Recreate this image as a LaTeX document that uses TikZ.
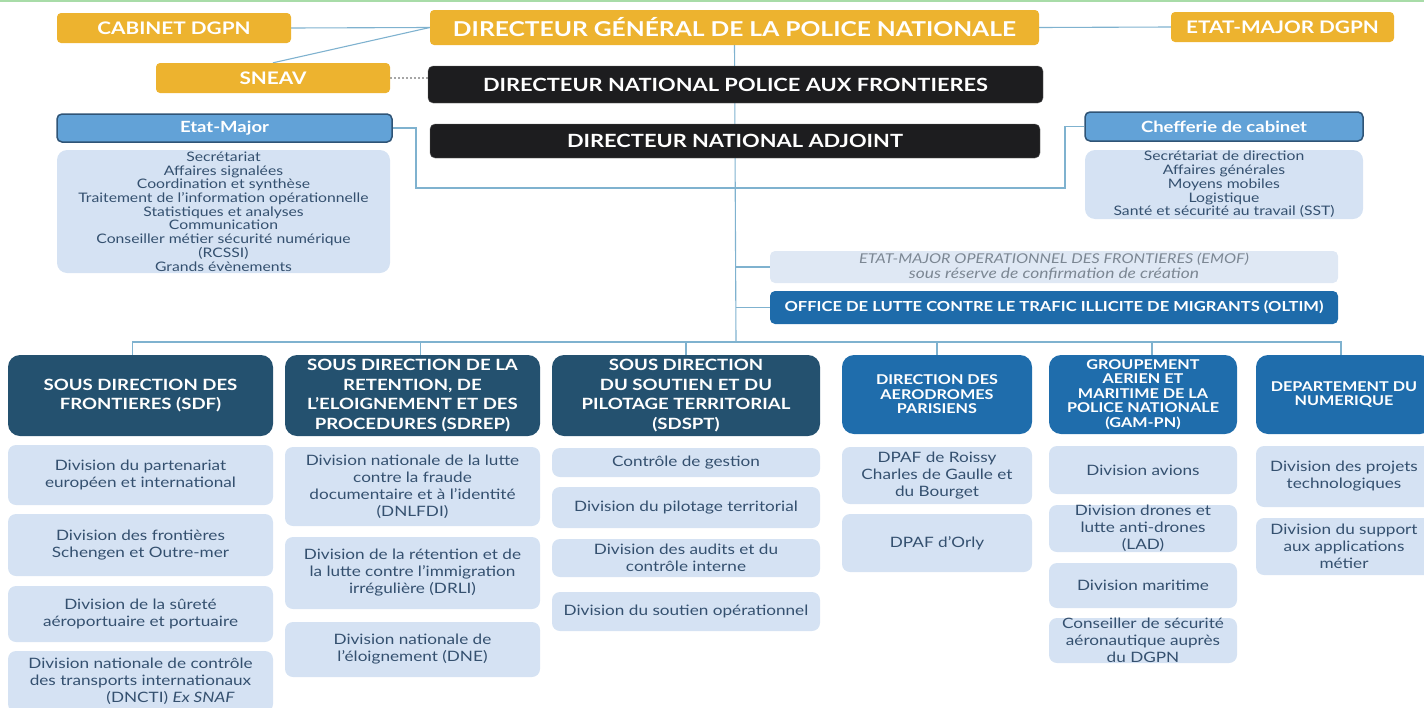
\documentclass[tikz,border=0pt]{standalone}
\usepackage{fontspec}
\setmainfont{Lato}[FakeStretch=1.2]
\usetikzlibrary{backgrounds}
\definecolor{gold}{HTML}{EDB32F}
\definecolor{blk}{HTML}{1D1D1F}
\definecolor{hdrblue}{HTML}{62A2D7}
\definecolor{hdrborder}{HTML}{2F5476}
\definecolor{lightbox}{HTML}{D5E2F3}
\definecolor{emofbox}{HTML}{DFE8F4}
\definecolor{tealhdr}{HTML}{24516F}
\definecolor{midblue}{HTML}{1F6DAC}
\definecolor{oltimc}{HTML}{1E6BAA}
\definecolor{conn}{HTML}{7FB2CF}
\definecolor{subtext}{HTML}{34506F}
\definecolor{emoftext}{HTML}{7C8793}
\definecolor{topgreen}{HTML}{A8DCA8}
\newcommand\mkbox[7]{\node[#6, minimum width={(#4-#2)*1pt}, minimum height={(#5-#3)*1pt}] (#1) at ({(#2+#4)/2},{(#3+#5)/2}) {#7};}
\tikzset{
  box/.style={inner sep=0pt, align=center},
  goldbox/.style={box, fill=gold, rounded corners=4pt, text=white, font=\bfseries\fontsize{17.3}{22}\selectfont},
  blackbox/.style={box, fill=blk, draw=black!60, rounded corners=5pt, text=white, font=\bfseries\fontsize{18.2}{22}\selectfont},
  sidehdr/.style={box, fill=hdrblue, draw=hdrborder, line width=1.5pt, rounded corners=5pt, text=white, font=\bfseries\fontsize{15.4}{18}\selectfont},
  listbox/.style={box, fill=lightbox, rounded corners=10pt, text=subtext, font=\fontsize{13.1}{13.7}\selectfont},
  tealbox/.style={box, fill=tealhdr, rounded corners=12pt, text=white, font=\bfseries\fontsize{15.5}{19.5}\selectfont},
  bluebox/.style={box, fill=midblue, rounded corners=12pt, text=white, font=\bfseries\fontsize{13.5}{14.6}\selectfont},
  subbox/.style={box, fill=lightbox, rounded corners=8pt, text=subtext, font=\fontsize{14.3}{17}\selectfont},
  emofst/.style={box, fill=emofbox, rounded corners=5pt, text=emoftext, font=\itshape\fontsize{13.5}{15}\selectfont},
  oltimst/.style={box, fill=oltimc, rounded corners=5pt, text=white, font=\bfseries\fontsize{13.8}{16}\selectfont},
  link/.style={draw=conn, line width=1.1pt},
}
\begin{document}
\begin{tikzpicture}[x=1pt,y=-1pt]
\useasboundingbox (0,0) rectangle (1424,707);
\draw[topgreen, line width=1.5pt] (0,1) -- (1424,1);
% top row
\mkbox{cab}{57}{13}{291}{43}{goldbox}{CABINET DGPN}
\mkbox{dg}{430}{10}{1039}{45}{goldbox, font=\bfseries\fontsize{20.5}{22}\selectfont}{DIRECTEUR GÉNÉRAL DE LA POLICE NATIONALE}
\mkbox{emdg}{1171}{12}{1394}{42}{goldbox}{ETAT-MAJOR DGPN}
\mkbox{sneav}{156}{63}{390}{93}{goldbox}{SNEAV}
\mkbox{dnpaf}{428}{66}{1043}{103}{blackbox}{DIRECTEUR NATIONAL POLICE AUX FRONTIERES}
\mkbox{dna}{430}{124}{1040}{158}{blackbox}{DIRECTEUR NATIONAL ADJOINT}
% side boxes
\mkbox{em}{57}{114}{392}{142}{sidehdr}{Etat-Major}
\mkbox{emlist}{57}{150}{390}{273}{listbox}{Secrétariat\\Affaires signalées\\Coordination et synthèse\\Traitement de l’information opérationnelle\\Statistiques et analyses\\Communication\\Conseiller métier sécurité numérique\\(RCSSI)\\Grands évènements}
\mkbox{ch}{1085}{112}{1363}{141}{sidehdr}{Chefferie de cabinet}
\mkbox{chlist}{1085}{150}{1363}{219}{listbox}{Secrétariat de direction\\Affaires générales\\Moyens mobiles\\Logistique\\Santé et sécurité au travail (SST)}
\mkbox{emof}{770}{251}{1338}{283}{emofst}{ETAT-MAJOR OPERATIONNEL DES FRONTIERES (EMOF)\\{\fontsize{14.5}{15}\selectfont sous réserve de confirmation de création}}
\mkbox{oltim}{770}{291}{1338}{324}{oltimst}{OFFICE DE LUTTE CONTRE LE TRAFIC ILLICITE DE MIGRANTS (OLTIM)}
% headers
\mkbox{sdf}{8}{355}{273}{436}{tealbox}{SOUS DIRECTION DES\\FRONTIERES (SDF)}
\mkbox{sdrep}{285}{355}{540}{436}{tealbox}{SOUS DIRECTION DE LA\\RETENTION, DE\\L’ELOIGNEMENT ET DES\\PROCEDURES (SDREP)}
\mkbox{sdspt}{552}{355}{820}{436}{tealbox}{SOUS DIRECTION\\DU SOUTIEN ET DU\\PILOTAGE TERRITORIAL\\(SDSPT)}
\mkbox{dap}{842}{355}{1032}{434}{bluebox}{DIRECTION DES\\AERODROMES\\PARISIENS}
\mkbox{gam}{1049}{355}{1237}{434}{bluebox}{GROUPEMENT\\AERIEN ET\\MARITIME DE LA\\POLICE NATIONALE\\(GAM-PN)}
\mkbox{dn}{1256}{355}{1432}{434}{bluebox}{DEPARTEMENT DU\\NUMERIQUE}
% SDF column
\mkbox{sdfa}{8}{445}{273}{505}{subbox}{Division du partenariat\\européen et international}
\mkbox{sdfb}{8}{514}{273}{576}{subbox}{Division des frontières\\Schengen et Outre-mer}
\mkbox{sdfc}{8}{586}{273}{642}{subbox}{Division de la sûreté\\aéroportuaire et portuaire}
\mkbox{sdfd}{8}{651}{273}{712}{subbox}{Division nationale de contrôle\\des transports internationaux\\\hspace*{60pt}(DNCTI) {\itshape Ex SNAF}}
% SDREP column
\mkbox{sdrepa}{285}{447}{540}{526}{subbox}{Division nationale de la lutte\\contre la fraude\\documentaire et à l’identité\\(DNLFDI)}
\mkbox{sdrepb}{285}{537}{540}{609}{subbox}{Division de la rétention et de\\la lutte contre l’immigration\\irrégulière (DRLI)}
\mkbox{sdrepc}{285}{622}{540}{677}{subbox}{Division nationale de\\l’éloignement (DNE)}
% SDSPT column
\mkbox{sdspta}{552}{448}{820}{477}{subbox}{Contrôle de gestion}
\mkbox{sdsptb}{552}{487}{820}{528}{subbox}{Division du pilotage territorial}
\mkbox{sdsptc}{552}{539}{820}{577}{subbox}{Division des audits et du\\contrôle interne}
\mkbox{sdsptd}{552}{592}{820}{631}{subbox}{Division du soutien opérationnel}
% DAP column
\mkbox{dapa}{842}{447}{1032}{504}{subbox}{DPAF de Roissy\\Charles de Gaulle et\\du Bourget}
\mkbox{dapb}{842}{514}{1032}{572}{subbox}{DPAF d’Orly}
% GAM column
\mkbox{gama}{1049}{446}{1237}{494}{subbox}{Division avions}
\mkbox{gamb}{1049}{505}{1237}{552}{subbox}{Division drones et\\lutte anti-drones\\(LAD)}
\mkbox{gamc}{1049}{563}{1237}{608}{subbox}{Division maritime}
\mkbox{gamd}{1049}{618}{1237}{663}{subbox}{Conseiller de sécurité\\aéronautique auprès\\du DGPN}
% DN column
\mkbox{dna1}{1256}{446}{1432}{507}{subbox}{Division des projets\\technologiques}
\mkbox{dnb}{1256}{518}{1432}{575}{subbox}{Division du support\\aux applications\\métier}
% connectors
\coordinate (bus) at (736,342);
\coordinate (emj) at (416,188);
\coordinate (chj) at (1065,188);
\begin{scope}[on background layer]
\draw[link] (cab.east) -- (dg.west);
\draw[link] (sneav.north) -- (dg.west);
\draw[link] (dg.east) -- (emdg.west);
\draw[link, dash pattern=on 2pt off 2pt, draw=gray!70] (sneav.east) -- (sneav.east -| dnpaf.west);
\draw[link] (dg.south) -- (bus);
\draw[link] (em.east) -- (em.east -| emj) -- (emj) -- (chj) -- (chj |- ch.west) -- (ch.west);
\draw[link] (emof.west -| bus) -- (emof.west);
\draw[link] (oltim.west -| bus) -- (oltim.west);
\draw[link] ([xshift=-8pt]sdf.north) |- (bus);
\draw[link] ([xshift=8pt]sdrep.north) |- (bus);
\draw[link] (sdspt.north) |- (bus);
\draw[link] (dap.north) |- (bus);
\draw[link] ([xshift=9pt]gam.north) |- (bus);
\draw[link] ([xshift=-3pt]dn.north) |- (bus);
\end{scope}
\end{tikzpicture}
\end{document}
